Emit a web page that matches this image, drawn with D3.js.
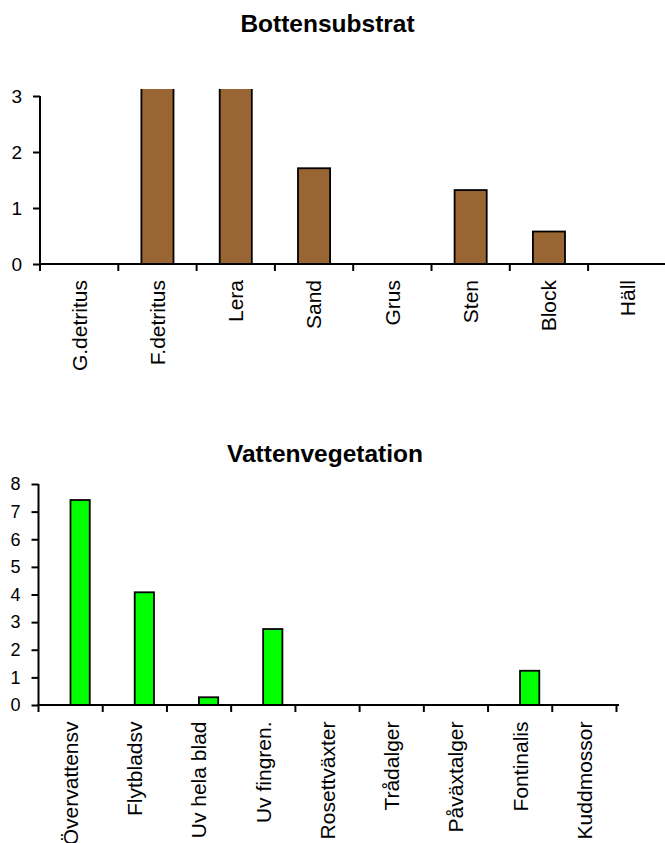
<!DOCTYPE html>
<html>
<head>
<meta charset="utf-8">
<script src="https://cdn.jsdelivr.net/npm/d3@7"></script>
<style>
  body { margin: 0; background: #fff; }
  svg { display: block; }
  text { font-family: "Liberation Sans", Arial, sans-serif; fill: #000; }
</style>
</head>
<body>
<svg id="chart" width="665" height="843"></svg>
<script>
// ---- Data ----
const substrateCategories = ["G.detritus", "F.detritus", "Lera", "Sand", "Grus", "Sten", "Block", "Häll"];
const substrateValues = [0, 3.6, 3.6, 1.71, 0, 1.32, 0.58, 0];
const substrateTicks = [0, 1, 2, 3];

const vegCategories = ["Övervattensv", "Flytbladsv", "Uv hela blad", "Uv fingren.", "Rosettväxter", "Trådalger", "Påväxtalger", "Fontinalis", "Kuddmossor"];
const vegValues = [7.42, 4.08, 0.28, 2.75, 0, 0, 0, 1.24, 0];
const vegTicks = [0, 1, 2, 3, 4, 5, 6, 7, 8];

const svg = d3.select("#chart");

function drawChart(cfg) {
  const g = svg.append("g");
  const x = d3.scaleBand().domain(cfg.categories).range(cfg.xRange).paddingInner(0).paddingOuter(0);
  const y = d3.scaleLinear().domain(cfg.yDomain).range(cfg.yRange);

  // title
  g.append("text")
    .attr("x", cfg.titleX).attr("y", cfg.titleY)
    .attr("text-anchor", "middle")
    .style("font-weight", "bold").style("font-size", "24.5px")
    .text(cfg.title);

  // clip
  const clipId = "clip-" + cfg.id;
  svg.append("clipPath").attr("id", clipId)
    .append("rect")
    .attr("x", cfg.xRange[0]).attr("y", cfg.clipTop)
    .attr("width", cfg.xRange[1] - cfg.xRange[0]).attr("height", y(0) - cfg.clipTop + 2);

  // bars
  const bw = x.bandwidth() * cfg.barFrac;
  g.append("g").attr("clip-path", `url(#${clipId})`)
    .selectAll("rect").data(cfg.values.map((v, i) => ({ c: cfg.categories[i], v })).filter(d => d.v > 0))
    .join("rect")
    .attr("x", d => x(d.c) + x.bandwidth() / 2 + x.bandwidth() * cfg.barShift - bw / 2)
    .attr("y", d => y(d.v))
    .attr("width", bw)
    .attr("height", d => y(0) - y(d.v))
    .attr("fill", cfg.color)
    .attr("stroke", "#000").attr("stroke-width", 1.8);

  // y axis
  const ya = g.append("g").attr("transform", `translate(${cfg.xRange[0]},0)`)
    .call(d3.axisLeft(y).tickValues(cfg.ticks).tickFormat(d3.format("d")).tickSize(7).tickPadding(11).tickSizeOuter(0));
  ya.select(".domain").attr("stroke-width", 2).attr("d", `M0,${y(cfg.ticks[cfg.ticks.length - 1])}V${y(0)}`);
  ya.selectAll(".tick line").attr("stroke-width", 2);
  ya.selectAll(".tick text").style("font-size", cfg.tickFont + "px")
    .style("font-family", '"Liberation Sans", Arial, sans-serif');

  // x axis line
  g.append("line")
    .attr("x1", cfg.xRange[0] - 1).attr("x2", cfg.axisEnd)
    .attr("y1", y(0)).attr("y2", y(0))
    .attr("stroke", "#000").attr("stroke-width", 2);

  // x boundary ticks
  const bounds = cfg.categories.map(c => x(c)).concat([x.range()[1]]);
  g.append("g").selectAll("line").data(bounds).join("line")
    .attr("x1", d => d).attr("x2", d => d)
    .attr("y1", y(0)).attr("y2", y(0) + 7)
    .attr("stroke", "#000").attr("stroke-width", 2);

  // x labels rotated
  g.append("g").selectAll("text").data(cfg.categories).join("text")
    .attr("transform", d => `translate(${x(d) + x.bandwidth() / 2},${y(0) + cfg.labelOffset}) rotate(-90)`)
    .attr("text-anchor", "end")
    .attr("dy", "0.35em")
    .style("font-size", cfg.labelFont + "px")
    .text(d => d);
}

drawChart({
  id: "sub", title: "Bottensubstrat", titleX: 327.5, titleY: 32,
  categories: substrateCategories, values: substrateValues, ticks: substrateTicks,
  xRange: [40, 666.4], axisEnd: 665, yDomain: [0, 3], yRange: [264, 96], clipTop: 89,
  barFrac: 0.41, barShift: 0, color: "#996633",
  tickFont: 19, labelFont: 21, labelOffset: 16
});

drawChart({
  id: "veg", title: "Vattenvegetation", titleX: 325, titleY: 462,
  categories: vegCategories, values: vegValues, ticks: vegTicks,
  xRange: [38.5, 616.5], axisEnd: 619, yDomain: [0, 8], yRange: [705, 484], clipTop: 470,
  barFrac: 0.3, barShift: 0.148, color: "#00ff00",
  tickFont: 18, labelFont: 21, labelOffset: 16.5
});
</script>
</body>
</html>
